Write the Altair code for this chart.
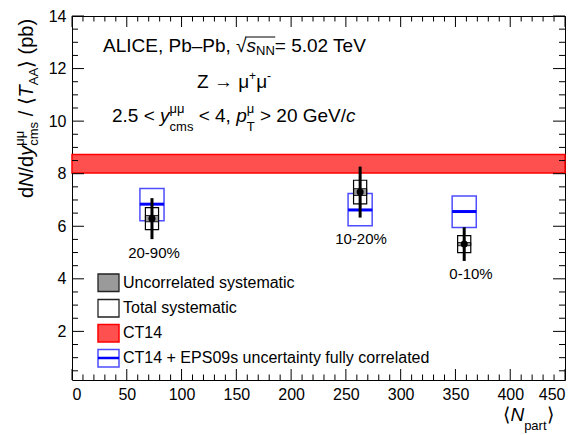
import altair as alt
import pandas as pd

# ---------------- data ----------------
centrality = ["0-10%", "10-20%", "20-90%"]
npart = [358, 263, 73]
yield_val = [5.32, 7.30, 6.29]
stat_err = [0.64, 0.97, 0.78]
sys_uncorr = [0.06, 0.13, 0.12]
sys_total = [0.32, 0.45, 0.42]
eps_central = [6.56, 6.62, 6.84]
eps_low = [5.95, 6.02, 6.21]
eps_high = [7.15, 7.25, 7.44]
ct14_low = [8.03]
ct14_high = [8.73]

x_major = list(range(0, 451, 50))
x_minor = [v for v in range(0, 451, 10) if v % 50]
y_major = [2, 4, 6, 8, 10, 12, 14]
y_minor = [v / 2 for v in range(1, 28) if v % 4]

W, H = 493, 364
OY = -2  # vertical shift of pixel-placed annotations (plot top moved down by 2px)
FONT = "Liberation Sans, Arial, Helvetica, sans-serif"
XS = alt.Scale(domain=[0, 450], nice=False, zero=False)
YS = alt.Scale(domain=[0.15, 14], nice=False, zero=False)
XA = alt.Axis(values=x_major, title=None, labelPadding=6, format="d")
YA = alt.Axis(values=y_major, title=None, labelPadding=6, format="d")

df = pd.DataFrame({
    "cent": centrality, "npart": npart, "y": yield_val, "stat": stat_err,
    "unc": sys_uncorr, "tot": sys_total,
    "ec": eps_central, "elo": eps_low, "ehi": eps_high,
})
base = alt.Chart(df).transform_calculate(
    bx1="datum.npart - 11", bx2="datum.npart + 11",
    tx1="datum.npart - 6", tx2="datum.npart + 6",
    slo="datum.y - datum.stat", shi="datum.y + datum.stat",
    ulo="datum.y - datum.unc", uhi="datum.y + datum.unc",
    tlo="datum.y - datum.tot", thi="datum.y + datum.tot",
)

def X(f):
    return alt.X(f, type="quantitative", scale=XS, axis=XA)

def Y(f):
    return alt.Y(f, type="quantitative", scale=YS, axis=YA)

# CT14 band
band_df = pd.DataFrame({"lo": ct14_low, "hi": ct14_high})
band = alt.Chart(band_df).mark_rect(
    fill="#ff5050", stroke="#ff0000", strokeWidth=1.5
).encode(
    x=alt.X(datum=0, type="quantitative", scale=XS, axis=XA),
    x2=alt.X2(datum=450),
    y=Y("lo"),
    y2="hi:Q",
)

blue_box = base.mark_rect(fillOpacity=0, stroke="#4d4dff", strokeWidth=1.5).encode(
    x=X("bx1"), x2="bx2:Q", y=Y("elo"), y2="ehi:Q")
blue_line = base.mark_rule(color="#0000ff", strokeWidth=3).encode(
    x=X("bx1"), x2="bx2:Q", y=Y("ec"))
gray_box = base.mark_rect(fill="#9a9a9a", stroke="#222222", strokeWidth=1).encode(
    x=X("tx1"), x2="tx2:Q", y=Y("ulo"), y2="uhi:Q")
tot_box = base.mark_rect(fillOpacity=0, stroke="black", strokeWidth=1.2).encode(
    x=X("tx1"), x2="tx2:Q", y=Y("tlo"), y2="thi:Q")
err = base.mark_rule(color="black", strokeWidth=3).encode(
    x=X("npart"), y=Y("slo"), y2="shi:Q")
pts = base.mark_point(filled=True, shape="circle", size=50, color="black", opacity=1).encode(
    x=X("npart"), y=Y("y"))

# ticks (inward, all four sides)
def xticks(vals, ln):
    d = pd.DataFrame({"v": vals})
    b = alt.Chart(d).mark_rule(color="black", strokeWidth=1)
    return [b.encode(x=X("v"), y=alt.value(H), y2=alt.value(H - ln)),
            b.encode(x=X("v"), y=alt.value(0), y2=alt.value(ln))]

def yticks(vals, ln):
    d = pd.DataFrame({"v": vals})
    b = alt.Chart(d).mark_rule(color="black", strokeWidth=1)
    return [b.encode(y=Y("v"), x=alt.value(0), x2=alt.value(ln)),
            b.encode(y=Y("v"), x=alt.value(W), x2=alt.value(W - ln))]

ticks = xticks(x_major, 11) + xticks(x_minor, 5.5) + yticks(y_major, 12) + yticks(y_minor, 6)

# ---------------- text helpers ----------------
CW = {" ": 278, ".": 278, ",": 278, "<": 584, ">": 584, "=": 584, "+": 584, "-": 333,
      "–": 556, "/": 278, "(": 333, ")": 333, "%": 889, "A": 667, "C": 722, "E": 667,
      "G": 778, "I": 278, "L": 556, "N": 722, "P": 667, "S": 667, "T": 611, "V": 667,
      "Z": 611, "a": 556, "b": 556, "c": 500, "d": 556, "e": 556, "i": 222, "l": 222,
      "m": 833, "p": 556, "r": 333, "s": 500, "t": 278, "y": 500, "μ": 576, "→": 1000,
      "√": 549, "⟨": 390, "⟩": 390}

def tw(s, size):
    return sum(CW.get(ch, 556) for ch in s) / 1000 * size

dummy = pd.DataFrame({"k": [0]})

def txt(s, x, y, size=17, style="normal", angle=0, align="left", baseline="alphabetic"):
    kw = dict(text=s, fontSize=size, fontStyle=style, font=FONT, align=align,
              baseline=baseline, color="black")
    if angle:
        kw["angle"] = angle
    return alt.Chart(dummy).mark_text(**kw).encode(x=alt.value(x), y=alt.value(y + OY))

def rich(pieces, x0, y0, rotated=False):
    out, adv, marks = [], 0.0, []
    def place(t, size, style, a, sh):
        lead = len(t) - len(t.lstrip())
        a2 = a + tw(t[:lead], size)
        s = t.strip()
        if not s:
            return
        if rotated:
            out.append(txt(s, x0 - sh, y0 - a2, size, style, angle=270))
        else:
            out.append(txt(s, x0 + a2, y0 - sh, size, style))
    for p in pieces:
        if p[0] == "stack":
            _, sup, sub, size, up, down = p
            if sup:
                place(sup, size, "normal", adv, up)
            if sub:
                place(sub, size, "normal", adv, -down)
            adv += max(tw(sup, size), tw(sub, size))
        else:
            t, size, style, sh = p
            place(t, size, style, adv, sh)
            adv += tw(t, size)
        marks.append(adv)
    return out, marks

texts = []
# line 1
L1X, L1Y = 31, 38
l1 = [("ALICE, Pb–Pb, ", 19, "normal", 0), ("√", 19, "normal", 0), ("s", 19, "italic", 0),
      ("NN", 13, "normal", -3), ("= 5.02 TeV", 19, "normal", 0)]
t1, m1 = rich(l1, L1X, L1Y)
texts += t1
over = alt.Chart(dummy).mark_rule(color="black", strokeWidth=1).encode(
    x=alt.value(L1X + m1[1] - 1.5), x2=alt.value(L1X + m1[3] + 0.5),
    y=alt.value(L1Y - 15 + OY))
texts.append(over)
# line 2
l2 = [("Z → μ", 19, "normal", 0), ("+", 12, "normal", 8), ("μ", 19, "normal", 0),
      ("-", 12, "normal", 8)]
texts += rich(l2, 125, 74)[0]
# line 3
l3 = [("2.5 < ", 19, "normal", 0), ("y", 19, "italic", 0), ("stack", "μμ", "cms", 13, 9, 9),
      (" < 4, ", 19, "normal", 0), ("p", 19, "italic", 0), ("stack", "μ", "T", 13, 9, 9),
      (" > 20 GeV/", 19, "normal", 0), ("c", 19, "italic", 0)]
texts += rich(l3, 40, 108)[0]

# y title (rotated)
yt = [("d", 20, "normal", 0), ("N", 20, "italic", 0), ("/d", 20, "normal", 0),
      ("y", 20, "italic", 0), ("stack", "μμ", "cms", 13, 9, 5), (" / ", 20, "normal", 0),
      ("⟨", 20, "normal", 0), ("T", 20, "italic", 0), ("stack", "", "AA", 13, 0, 5),
      ("⟩", 20, "normal", 0), (" (pb)", 20, "normal", 0)]
texts += rich(yt, -39, 184, rotated=True)[0]

# x title
xt = [("⟨", 19, "normal", 0), ("N", 19, "italic", 0), ("stack", "", "part", 13, 0, 9),
      ("⟩", 19, "normal", 0)]
texts += rich(xt, 431, 407)[0]

# centrality labels
texts += [txt(centrality[2], 82, 239, 15, align="center", baseline="middle"),
          txt(centrality[1], 289, 225, 15, align="center", baseline="middle"),
          txt(centrality[0], 399, 260, 15, align="center", baseline="middle")]

# legend
def lrect(y1, y2, **kw):
    return alt.Chart(dummy).mark_rect(**kw).encode(
        x=alt.value(26), x2=alt.value(47), y=alt.value(y1 + OY), y2=alt.value(y2 + OY))

legend = [
    lrect(260, 277.5, fill="#9a9a9a", stroke="#222222", strokeWidth=1.3),
    lrect(285.5, 303, fillOpacity=0, stroke="#222222", strokeWidth=1.3),
    lrect(310.5, 328, fill="#ff5050", stroke="#ff0000", strokeWidth=1.5),
    lrect(335.5, 353, fillOpacity=0, stroke="#4d4dff", strokeWidth=1.5),
    alt.Chart(dummy).mark_rule(color="#0000ff", strokeWidth=2.5).encode(
        x=alt.value(26), x2=alt.value(47), y=alt.value(344 + OY)),
]
for lbl, yc in [("Uncorrelated systematic", 269), ("Total systematic", 294),
                ("CT14", 319), ("CT14 + EPS09s uncertainty fully correlated", 344)]:
    legend.append(txt(lbl, 51, yc, 16, baseline="middle"))

chart = alt.layer(
    band, blue_box, blue_line, gray_box, tot_box, err, pts, *ticks, *legend, *texts
).properties(
    width=W, height=H, autosize=alt.AutoSizeParams(type="none"),
    padding={"left": 64, "top": 8, "right": 7, "bottom": 60},
).configure_view(
    stroke="black", strokeWidth=1
).configure_axis(
    ticks=False, domain=False, grid=False, labelFont=FONT, labelFontSize=16,
    labelColor="black"
)

chart.save("out.html", embed_options={"renderer": "svg", "actions": False})
